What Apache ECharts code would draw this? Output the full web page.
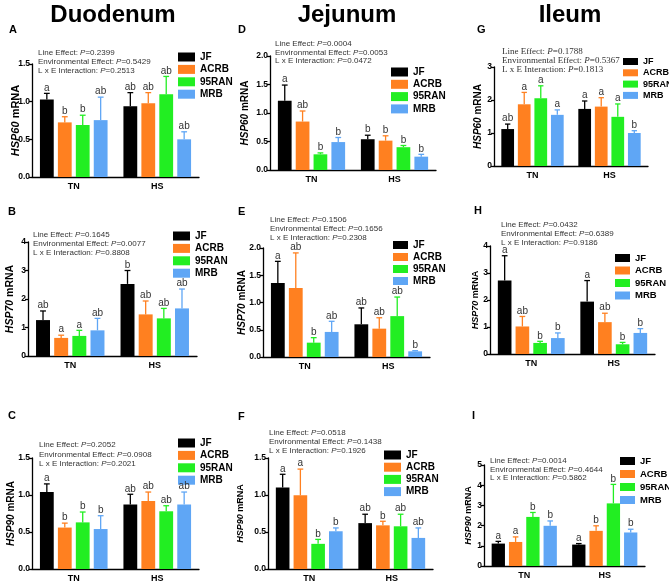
<!DOCTYPE html>
<html><head><meta charset="utf-8">
<script src="https://cdn.jsdelivr.net/npm/echarts@6/dist/echarts.min.js"></script>
<style>html,body{margin:0;padding:0;background:#fff}#c{width:669px;height:585px}</style>
</head><body><div id="c"></div>
<script>
const categories = ['TN', 'HS'];
const groups = ['JF', 'ACRB', '95RAN', 'MRB'];
const sections = ['Duodenum', 'Jejunum', 'Ileum'];
const genes = ['HSP60', 'HSP70', 'HSP90'];
const panelLetters = ['A', 'B', 'C', 'D', 'E', 'F', 'G', 'H', 'I'];
const effectNames = ['Line Effect: ', 'Environmental Effect: ', 'L x E Interaction: '];

// rows: [TN, HS]; columns: [JF, ACRB, 95RAN, MRB]
const A_mean = [[1.03, 0.725, 0.69, 0.755], [0.94, 0.98, 1.10, 0.50]];
const A_upper = [[1.11, 0.80, 0.82, 1.06], [1.12, 1.12, 1.335, 0.60]];
const A_sig = [['a', 'b', 'b', 'ab'], ['ab', 'ab', 'ab', 'ab']];
const A_p = ['0.2399', '0.5429', '0.2513'];

const B_mean = [[1.26, 0.635, 0.705, 0.90], [2.53, 1.46, 1.32, 1.67]];
const B_upper = [[1.58, 0.73, 0.90, 1.32], [3.0, 1.93, 1.67, 2.35]];
const B_sig = [['ab', 'a', 'a', 'ab'], ['b', 'ab', 'ab', 'ab']];
const B_p = ['0.1645', '0.0077', '0.8808'];

const C_mean = [[1.04, 0.56, 0.63, 0.54], [0.87, 0.92, 0.78, 0.87]];
const C_upper = [[1.15, 0.62, 0.77, 0.72], [1.01, 1.04, 0.855, 1.04]];
const C_sig = [['a', 'b', 'b', 'b'], ['ab', 'ab', 'ab', 'ab']];
const C_p = ['0.2052', '0.0908', '0.2021'];

const D_mean = [[1.216, 0.85, 0.275, 0.49], [0.54, 0.515, 0.40, 0.234]];
const D_upper = [[1.49, 1.035, 0.30, 0.57], [0.61, 0.60, 0.43, 0.275]];
const D_sig = [['a', 'ab', 'b', 'b'], ['b', 'b', 'b', 'b']];
const D_p = ['0.0004', '0.0053', '0.0472'];

const E_mean = [[1.36, 1.266, 0.263, 0.46], [0.60, 0.52, 0.75, 0.104]];
const E_upper = [[1.755, 1.91, 0.355, 0.655], [0.90, 0.72, 1.10, 0.116]];
const E_sig = [['a', 'ab', 'b', 'ab'], ['ab', 'ab', 'ab', 'b']];
const E_p = ['0.1506', '0.1656', '0.2308'];

const F_mean = [[1.10, 0.995, 0.34, 0.51], [0.62, 0.59, 0.577, 0.42]];
const F_upper = [[1.28, 1.35, 0.40, 0.555], [0.74, 0.645, 0.74, 0.555]];
const F_sig = [['a', 'a', 'b', 'b'], ['ab', 'b', 'ab', 'ab']];
const F_p = ['0.0518', '0.1438', '0.1926'];

const G_mean = [[1.12, 1.87, 2.05, 1.55], [1.73, 1.80, 1.49, 1.00]];
const G_upper = [[1.27, 2.23, 2.43, 1.70], [1.97, 2.07, 1.88, 1.07]];
const G_sig = [['ab', 'a', 'a', 'a'], ['a', 'a', 'a', 'b']];
const G_p = ['0.1788', '0.5367', '0.1813'];

const H_mean = [[2.72, 1.02, 0.41, 0.59], [1.94, 1.18, 0.36, 0.78]];
const H_upper = [[3.64, 1.39, 0.47, 0.78], [2.72, 1.51, 0.43, 0.94]];
const H_sig = [['a', 'ab', 'b', 'b'], ['a', 'ab', 'b', 'b']];
const H_p = ['0.0432', '0.6389', '0.9186'];

const I_mean = [[1.11, 1.19, 2.43, 1.99], [1.06, 1.74, 3.10, 1.66]];
const I_upper = [[1.22, 1.44, 2.65, 2.23], [1.11, 1.99, 4.04, 1.82]];
const I_sig = [['a', 'a', 'b', 'b'], ['a', 'b', 'b', 'b']];
const I_p = ['0.0014', '0.4644', '0.5862'];

const yMax = [1.5, 4, 1.5, 2, 2, 1.5, 3, 4, 5];
const yStep = [0.5, 1, 0.5, 0.5, 0.5, 0.5, 1, 1, 1];

const panels = [
  [A_mean, A_upper, A_sig, A_p], [B_mean, B_upper, B_sig, B_p], [C_mean, C_upper, C_sig, C_p],
  [D_mean, D_upper, D_sig, D_p], [E_mean, E_upper, E_sig, E_p], [F_mean, F_upper, F_sig, F_p],
  [G_mean, G_upper, G_sig, G_p], [H_mean, H_upper, H_sig, H_p], [I_mean, I_upper, I_sig, I_p]
];

// ---- layout / style (not data) ----
const colors = ['#000000', '#FF8020', '#22EE22', '#5FA6F5'];
const SANS = 'Arial, "Liberation Sans", Helvetica, sans-serif';
const SERIF = '"Times New Roman", "Liberation Serif", serif';
// grid: left, right, top, bottom(y=0)
const gridBox = [
  [32, 199, 64, 177], [28, 197, 242, 356], [32, 199, 458, 569],
  [270, 436, 56, 170], [263, 430, 248, 357], [268, 433, 458, 569],
  [494, 648, 67, 166], [490, 655, 246, 354], [484, 645, 465, 566]
];
const nameGaps = [11, 12, 16, 20, 16, 23, 11, 10, 11];
const nameSizes = [11, 10.5, 10, 10, 10, 9, 10, 9, 9];
// legend: left, top, fontSize, itemWidth, itemHeight, spacing
const legendBox = [
  [178, 52, 10, 17, 9, 11.4], [173, 231, 10, 17, 9, 11.4], [178, 438, 10, 17, 9, 11.4],
  [391, 67, 10, 17, 9, 11.3], [393, 240, 10, 15, 8, 10], [384, 450, 10, 17, 9, 11.2],
  [623, 57, 9, 15, 7, 9.3], [615, 253, 9.5, 15, 8, 10.5], [620, 456, 9.5, 15, 8, 11]
];
// p-value text: left x, first line center y, line spacing, serif?
const pBox = [
  [38, 53, 9, 0], [33, 235, 9, 0], [39, 445, 9.5, 0],
  [275, 44, 8.5, 0], [270, 220, 9, 0], [269, 433, 9, 0],
  [502, 52, 9, 1], [501, 225, 8.7, 0], [490, 461, 8.5, 0]
];
const letterPos = [[9, 30], [8, 212], [8, 416], [238, 30], [238, 212], [238, 417], [477, 30], [474, 211], [472, 416]];
const titlePos = [[113, 15], [347, 15], [570, 15]];

const CAT_GAP = 0.19, BAR_GAP = 0.3;

function makeRender(sig) {
  return function (params, api) {
    const c = api.value(0), k = api.value(1);
    const base = api.coord([c, api.value(2)]);
    const top = api.coord([c, api.value(3)]);
    const band = api.size([1, 0])[0];
    const bw = band * (1 - CAT_GAP) / (4 + 3 * BAR_GAP);
    const gap = bw * BAR_GAP;
    const x = base[0] - (4 * bw + 3 * gap) / 2 + k * (bw + gap) + bw / 2;
    const cap = bw * 0.42;
    const col = colors[k];
    return {
      type: 'group', children: [
        { type: 'line', shape: { x1: x, y1: base[1], x2: x, y2: top[1] }, style: { stroke: col, lineWidth: 1.3 } },
        { type: 'line', shape: { x1: x - cap / 2, y1: top[1], x2: x + cap / 2, y2: top[1] }, style: { stroke: col, lineWidth: 1.3 } },
        { type: 'text', style: { x: x, y: top[1] - 0.5, text: sig[c][k], align: 'center', verticalAlign: 'bottom', fontSize: 10, fontFamily: SANS, fill: '#333' } }
      ]
    };
  };
}

const grid = [], xAxis = [], yAxis = [], series = [], legend = [], graphic = [];
panels.forEach((p, i) => {
  const [mean, upper, sig, pv] = p;
  const g = gridBox[i];
  grid.push({ left: g[0], top: g[2], width: g[1] - g[0], height: g[3] - g[2], outerBoundsMode: 'none', containLabel: false });
  xAxis.push({
    gridIndex: i, type: 'category', data: categories,
    axisLine: { lineStyle: { color: '#000', width: 1.3 } },
    axisTick: { alignWithLabel: true, length: 3, lineStyle: { color: '#000', width: 1.3 } },
    axisLabel: { color: '#000', fontWeight: 'bold', fontSize: 9, margin: 5, fontFamily: SANS }
  });
  const gene = genes[i % 3];
  yAxis.push({
    gridIndex: i, type: 'value', min: 0, max: yMax[i], interval: yStep[i],
    axisLine: { show: true, lineStyle: { color: '#000', width: 1.3 } },
    axisTick: { show: true, length: 3, lineStyle: { color: '#000', width: 1.3 } },
    splitLine: { show: false },
    axisLabel: { color: '#000', fontWeight: 'bold', fontSize: 8.5, margin: 2, fontFamily: SANS,
      formatter: v => yStep[i] < 1 ? v.toFixed(1) : String(v) },
    name: '{i|' + gene + '} mRNA', nameLocation: 'middle', nameGap: nameGaps[i], nameMoveOverlap: false,
    nameTextStyle: { color: '#000', fontWeight: 'bold', fontSize: nameSizes[i], fontFamily: SANS,
      rich: { i: { fontStyle: 'italic', fontWeight: 'bold', fontSize: nameSizes[i], fontFamily: SANS, color: '#000' } } }
  });
  groups.forEach((name, k) => {
    series.push({
      type: 'bar', name: name, xAxisIndex: i, yAxisIndex: i,
      data: [mean[0][k], mean[1][k]],
      itemStyle: { color: colors[k] },
      barGap: (BAR_GAP * 100) + '%', barCategoryGap: (CAT_GAP * 100) + '%',
      emphasis: { disabled: true }
    });
  });
  const rows = [];
  for (let c = 0; c < 2; c++) for (let k = 0; k < 4; k++) rows.push([c, k, mean[c][k], upper[c][k]]);
  series.push({
    type: 'custom', xAxisIndex: i, yAxisIndex: i, data: rows, silent: true, z: 5,
    encode: { x: 0, y: 3 }, renderItem: makeRender(sig)
  });
  const L = legendBox[i];
  legend.push({
    data: groups, orient: 'vertical', left: L[0], top: L[1], padding: 0,
    itemWidth: L[3], itemHeight: L[4], itemGap: L[5] - L[4], icon: 'rect', selectedMode: false,
    textStyle: { fontWeight: 'bold', fontSize: L[2], color: '#000', fontFamily: SANS, lineHeight: L[4] }
  });
  const P = pBox[i];
  const fam = P[3] ? SERIF : SANS;
  const fs = P[3] ? 9 : 8;
  pv.forEach((val, j) => {
    graphic.push({
      type: 'text', x: P[0], y: P[1] + j * P[2], silent: true,
      style: {
        text: '{n|' + effectNames[j] + '}{i|P}{n|=' + val + '}', verticalAlign: 'middle',
        rich: {
          n: { fontSize: fs, fontFamily: fam, fill: '#333' },
          i: { fontSize: fs, fontFamily: fam, fontStyle: 'italic', fill: '#333' }
        }
      }
    });
  });
  graphic.push({
    type: 'text', x: letterPos[i][0], y: letterPos[i][1], silent: true,
    style: { text: panelLetters[i], fontSize: 11, fontWeight: 'bold', fontFamily: SANS, fill: '#000', verticalAlign: 'middle' }
  });
});
sections.forEach((s, j) => {
  graphic.push({
    type: 'text', x: titlePos[j][0], y: titlePos[j][1], silent: true,
    style: { text: s, fontSize: 24, fontWeight: 'bold', fontFamily: SANS, fill: '#000', align: 'center', verticalAlign: 'middle' }
  });
});

const chart = echarts.init(document.getElementById('c'), null, { renderer: 'canvas' });
chart.setOption({ animation: false, backgroundColor: '#fff', grid, xAxis, yAxis, series, legend, graphic });
</script></body></html>
